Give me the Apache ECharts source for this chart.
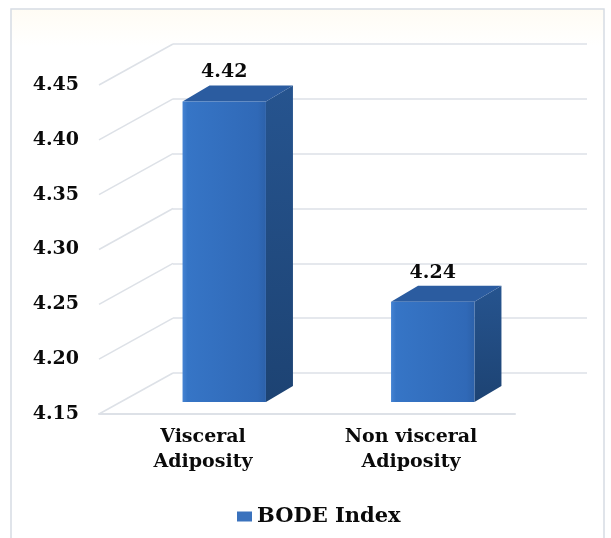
<!DOCTYPE html>
<html>
<head>
<meta charset="utf-8">
<title>BODE Index</title>
<script src="https://cdn.jsdelivr.net/npm/echarts@6/dist/echarts.min.js"></script>
<style>
  html, body { margin: 0; padding: 0; background: #ffffff; }
  #chart { width: 611px; height: 538px; }
</style>
</head>
<body>
<div id="chart"></div>
<script>
// Chart data
const categories = ['Visceral\nAdiposity', 'Non visceral\nAdiposity'];
const bodeIndex = [4.42, 4.24];
const yTicks = [4.15, 4.20, 4.25, 4.30, 4.35, 4.40, 4.45];
const seriesName = 'BODE Index';

const yMin = yTicks[0];
const yMax = yTicks[yTicks.length - 1];
const yStep = 0.05;

const FONT = 'DejaVu Serif';
const TEXT_COLOR = '#0a0a0a';
const GRID_LINE = '#dde1e7';

// pseudo-3D depth of the bars and of the floor
const BAR_DEPTH = [27, -16];
const FLOOR_DEPTH = [-74, 41];

const chart = echarts.init(document.getElementById('chart'), null, { renderer: 'canvas' });

function renderBar(params, api) {
  const cat = api.value(0);
  const val = api.value(1);
  const top = api.coord([cat, val]);
  const base = api.coord([cat, yMin]);
  const w = api.size([1, 0])[0] * 0.4;
  const x0 = top[0] - w / 2;
  const y0 = top[1];
  const y1 = base[1];
  const dx = BAR_DEPTH[0], dy = BAR_DEPTH[1];
  return {
    type: 'group',
    children: [
      {
        type: 'polygon',
        shape: { points: [[x0 + w, y0], [x0 + w + dx, y0 + dy], [x0 + w + dx, y1 + dy], [x0 + w, y1]] },
        style: {
          fill: new echarts.graphic.LinearGradient(0, 0, 0, 1, [
            { offset: 0, color: '#26548f' },
            { offset: 1, color: '#1d4373' }
          ])
        }
      },
      {
        type: 'polygon',
        shape: { points: [[x0, y0], [x0 + dx, y0 + dy], [x0 + w + dx, y0 + dy], [x0 + w, y0]] },
        style: { fill: '#2b5ca0' }
      },
      {
        type: 'rect',
        shape: { x: x0, y: y0, width: w, height: y1 - y0 },
        style: {
          fill: new echarts.graphic.LinearGradient(0, 0, 1, 0, [
            { offset: 0, color: '#4583d2' },
            { offset: 0.06, color: '#3675c6' },
            { offset: 0.9, color: '#3069b7' },
            { offset: 1, color: '#2c61aa' }
          ])
        }
      },
      {
        type: 'text',
        style: {
          x: top[0],
          y: y0 - 29,
          text: val.toFixed(2),
          fill: TEXT_COLOR,
          font: 'bold 19px "' + FONT + '"',
          align: 'center',
          verticalAlign: 'middle'
        }
      }
    ]
  };
}

function renderDiagonal(params, api) {
  const p = api.coord([api.value(0), api.value(1)]);
  const xl = params.coordSys.x;
  return {
    type: 'line',
    shape: { x1: xl, y1: p[1], x2: xl + FLOOR_DEPTH[0], y2: p[1] + FLOOR_DEPTH[1] },
    style: { stroke: GRID_LINE, lineWidth: 1.5 }
  };
}

const option = {
  backgroundColor: '#ffffff',
  animation: false,
  graphic: [
    {
      type: 'rect',
      shape: { x: 11, y: 9, width: 593, height: 545 },
      style: {
        fill: new echarts.graphic.LinearGradient(0, 0, 0, 1, [
          { offset: 0, color: '#fffcf4' },
          { offset: 0.07, color: '#ffffff' },
          { offset: 1, color: '#ffffff' }
        ]),
        stroke: '#d6dce4',
        lineWidth: 1.5
      },
      z: -10
    }
  ],
  legend: {
    data: [seriesName],
    left: 232,
    top: 501,
    icon: 'rect',
    itemWidth: 15,
    itemHeight: 10,
    textStyle: { fontFamily: FONT, fontWeight: 'bold', fontSize: 21, color: TEXT_COLOR }
  },
  grid: [
    // back wall
    { left: 173, right: 24, top: 44, bottom: 165 },
    // front plane (axis labels and floor edge)
    { left: 99, right: 96, top: 85, bottom: 124 },
    // plane of the bars' front faces
    { left: 120, right: 74, top: 68, bottom: 136 }
  ],
  xAxis: [
    {
      gridIndex: 0, type: 'category', data: categories,
      axisLine: { show: false }, axisTick: { show: false }, axisLabel: { show: false }
    },
    {
      gridIndex: 1, type: 'category', data: categories,
      axisLine: { show: true, lineStyle: { color: GRID_LINE, width: 2 } },
      axisTick: { show: false },
      axisLabel: {
        margin: 11,
        fontFamily: FONT, fontWeight: 'bold', fontSize: 19, lineHeight: 25, color: TEXT_COLOR
      }
    },
    {
      gridIndex: 2, type: 'category', data: categories,
      axisLine: { show: false }, axisTick: { show: false }, axisLabel: { show: false }
    }
  ],
  yAxis: [
    {
      gridIndex: 0, type: 'value', min: yMin, max: yMax, interval: yStep,
      axisLine: { show: false }, axisTick: { show: false }, axisLabel: { show: false },
      splitLine: { show: true, lineStyle: { color: GRID_LINE, width: 1.5 } }
    },
    {
      gridIndex: 1, type: 'value', min: yMin, max: yMax, interval: yStep,
      axisLine: { show: false }, axisTick: { show: false }, splitLine: { show: false },
      axisLabel: {
        margin: 20,
        formatter: v => v.toFixed(2),
        fontFamily: FONT, fontWeight: 'bold', fontSize: 19, color: TEXT_COLOR
      }
    },
    {
      gridIndex: 2, type: 'value', min: yMin, max: yMax, interval: yStep,
      axisLine: { show: false }, axisTick: { show: false }, axisLabel: { show: false },
      splitLine: { show: false }
    }
  ],
  series: [
    {
      name: 'floor-diagonals',
      type: 'custom',
      xAxisIndex: 0,
      yAxisIndex: 0,
      silent: true,
      renderItem: renderDiagonal,
      data: yTicks.map(v => [categories[0], v]),
      z: 1
    },
    {
      name: seriesName,
      type: 'custom',
      xAxisIndex: 2,
      yAxisIndex: 2,
      itemStyle: { color: '#3a72bd' },
      renderItem: renderBar,
      encode: { x: 0, y: 1 },
      data: categories.map((c, i) => [c, bodeIndex[i]]),
      z: 5
    }
  ]
};

chart.setOption(option);
</script>
</body>
</html>
